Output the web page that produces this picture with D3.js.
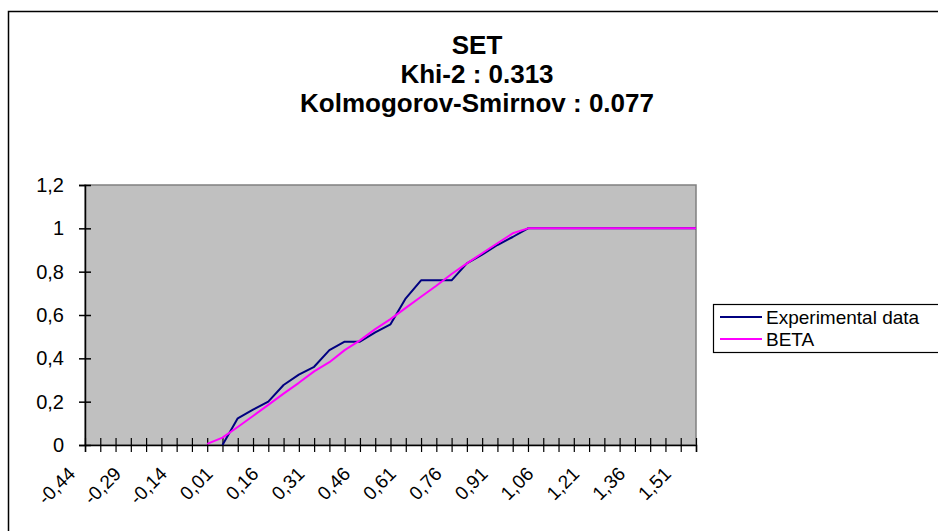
<!DOCTYPE html>
<html><head><meta charset="utf-8">
<script src="https://cdn.jsdelivr.net/npm/d3@7"></script>
<style>
html,body{margin:0;padding:0;background:#fff;}
svg{display:block;font-family:"Liberation Sans",Arial,sans-serif;}
</style></head>
<body><svg id="c" width="938" height="531"></svg>
<script>
const titleLines = ["SET", "Khi-2 : 0.313", "Kolmogorov-Smirnov : 0.077"];
const categories = [-0.44,-0.39,-0.34,-0.29,-0.24,-0.19,-0.14,-0.09,-0.04,0.01,0.06,0.11,0.16,0.21,0.26,0.31,0.36,0.41,0.46,0.51,0.56,0.61,0.66,0.71,0.76,0.81,0.86,0.91,0.96,1.01,1.06,1.11,1.16,1.21,1.26,1.31,1.36,1.41,1.46,1.51,1.56];
const experimental = [null,null,null,null,null,null,null,null,null,0.0,0.123,0.163,0.200,0.277,0.325,0.361,0.438,0.477,0.477,0.520,0.557,0.677,0.760,0.760,0.760,0.838,0.879,0.923,0.960,1,1,1,1,1,1,1,1,1,1,1,1];
const beta = [null,null,null,null,null,null,null,null,0.005,0.034,0.083,0.134,0.185,0.237,0.287,0.340,0.382,0.438,0.483,0.535,0.581,0.633,0.684,0.735,0.789,0.838,0.885,0.931,0.977,1,1,1,1,1,1,1,1,1,1,1,1];
const yTicks = [0,0.2,0.4,0.6,0.8,1,1.2];
const seriesNames = ["Experimental data","BETA"];

const svg = d3.select("#c");
const fmt = v => String(+v.toFixed(2)).replace(".", ",");

// outer chart border
svg.append("rect").attr("x",8.5).attr("y",11.5).attr("width",940).attr("height",530)
  .attr("fill","#fff").attr("stroke","#000").attr("stroke-width",1.5);

// title
const tt = svg.append("text").attr("text-anchor","middle").attr("font-weight","bold")
  .attr("font-size",26).attr("fill","#000");
titleLines.forEach((t,i)=>tt.append("tspan").attr("x",477).attr("y",54+i*29).text(t));

const L=85, R=696, T=185, B=445;
const x = d3.scalePoint().domain(categories).range([L,R]);
const y = d3.scaleLinear().domain([0,1.2]).range([B,T]);

svg.append("rect").attr("x",L).attr("y",T).attr("width",R-L).attr("height",B-T)
  .attr("fill","#c0c0c0").attr("stroke","#808080").attr("stroke-width",1.5);

// y axis
const ya = svg.append("g").attr("transform",`translate(${L},0)`)
  .call(d3.axisLeft(y).tickValues(yTicks).tickFormat(fmt).tickSize(6).tickPadding(15));
ya.select(".domain").attr("stroke","#000").attr("stroke-width",1.5);
ya.selectAll(".tick line").attr("x1",-6).attr("x2",6).attr("stroke","#000").attr("stroke-width",1.5);
ya.selectAll(".tick text").attr("font-size",20).attr("font-family","Liberation Sans, Arial, sans-serif").attr("fill","#000");

// x axis
const xa = svg.append("g").attr("transform",`translate(0,${B})`)
  .call(d3.axisBottom(x).tickValues(categories).tickFormat((d,i)=> i%3===0 ? fmt(d) : "").tickSize(7));
xa.select(".domain").attr("stroke","#000").attr("stroke-width",1.5);
xa.selectAll(".tick line").attr("y1",-7).attr("y2",7).attr("stroke","#000").attr("stroke-width",1.2);
xa.selectAll(".tick text").attr("font-size",19).attr("font-family","Liberation Sans, Arial, sans-serif").attr("fill","#000")
  .attr("text-anchor","end").attr("y",0).attr("dy",0)
  .attr("transform","translate(-9,30) rotate(-45)");

// lines
const line = d3.line().defined(d=>d.v!==null).x(d=>x(d.c)).y(d=>y(d.v));
const sets = [
  {vals: experimental, color:"#000080"},
  {vals: beta, color:"#ff00ff"}
];
sets.forEach(s=>{
  svg.append("path").datum(categories.map((c,i)=>({c, v:s.vals[i]})))
    .attr("d",line).attr("fill","none").attr("stroke",s.color).attr("stroke-width",2)
    .attr("stroke-linejoin","round");
});

// legend
const lg = svg.append("g");
lg.append("rect").attr("x",713.5).attr("y",304.5).attr("width",240).attr("height",48)
  .attr("fill","#fff").attr("stroke","#000").attr("stroke-width",1.2);
seriesNames.forEach((n,i)=>{
  const yy = 317 + i*22;
  lg.append("line").attr("x1",720).attr("x2",762).attr("y1",yy).attr("y2",yy)
    .attr("stroke",sets[i].color).attr("stroke-width",2);
  lg.append("text").attr("x",766).attr("y",yy+7).attr("font-size",19).attr("fill","#000").text(n);
});
</script>
</body></html>
